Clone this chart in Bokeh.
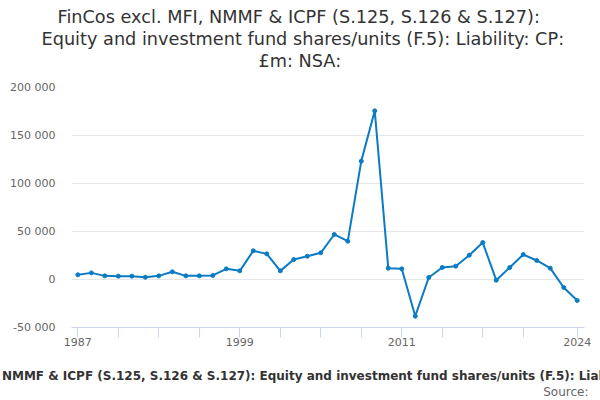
from bokeh.plotting import figure
from bokeh.models import Range1d, FixedTicker, Title
from bokeh.embed import file_html
from bokeh.resources import INLINE

# Data (£m)
years = list(range(1987, 2025))
values = [4900, 6900, 3800, 3500, 3500, 2400, 3800, 8000, 3800, 3800,
          4200, 11100, 9000, 29900, 26700, 9000, 20800, 24300, 27800, 46900,
          39900, 123300, 175700, 11800, 11100, -38200, 2100, 12500, 13900, 25300,
          38500, -700, 12500, 26000, 19800, 11800, -8300, -21900]

x_ticks = [1987, 1990, 1993, 1996, 1999, 2002, 2005, 2008, 2011, 2014, 2017, 2020, 2024]
x_tick_labels = ["1987", "", "", "", "1999", "", "", "", "2011", "", "", "", "2024"]
y_ticks = [-50000, 0, 50000, 100000, 150000, 200000]
y_tick_labels = ["-50 000", "0", "50 000", "100 000", "150 000", "200 000"]

title_lines = ["FinCos excl. MFI, NMMF & ICPF (S.125, S.126 & S.127):",
               "Equity and investment fund shares/units (F.5): Liability: CP:",
               "£m: NSA:"]
series_name = ("FinCos excl. MFI, NMMF & ICPF (S.125, S.126 & S.127): Equity and "
               "investment fund shares/units (F.5): Liability: CP: £m: NSA:")

FONT = "DejaVu Sans"
BLUE = "#0a7bc4"

p = figure(width=600, height=400, output_backend="svg", toolbar_location=None,
           title=None,
           x_range=Range1d(1986.53, 2024.54), y_range=Range1d(-50000, 200000),
           min_border_left=71, min_border_right=16, min_border_top=87, min_border_bottom=73)
p.outline_line_color = None
p.background_fill_color = "white"
p.border_fill_color = "white"

# title: a blank spacer next to the frame, then one line per title (last added on top)
p.add_layout(Title(text=" ", text_font=FONT, text_font_size="13.3px", standoff=0), "above")
title_offsets = [-14, -30, 187]   # left edge of each line relative to the plot frame
for line, off in reversed(list(zip(title_lines, title_offsets))):
    t = Title(text=line, align="left", offset=off, text_font=FONT,
              text_font_size="17.7px", text_font_style="normal",
              text_color="#333333", standoff=0)
    p.add_layout(t, "above")

# series
p.line(years, values, line_color=BLUE, line_width=2)
p.scatter(years, values, size=4, fill_color=BLUE, line_color=BLUE)

# x axis
p.xaxis.ticker = FixedTicker(ticks=x_ticks)
p.xaxis.major_label_overrides = dict(zip(x_ticks, x_tick_labels))
p.xaxis.axis_line_color = "#ccd6eb"
p.xaxis.major_tick_line_color = "#ccd6eb"
p.xaxis.major_tick_out = 10
p.xaxis.major_tick_in = 0
p.xaxis.minor_tick_line_color = None
p.xaxis.major_label_standoff = 0
p.xaxis.major_label_text_font = FONT
p.xaxis.major_label_text_font_size = "11px"
p.xaxis.major_label_text_color = "#666666"
p.xgrid.grid_line_color = None

# y axis
p.yaxis.ticker = FixedTicker(ticks=y_ticks)
p.yaxis.major_label_overrides = dict(zip(y_ticks, y_tick_labels))
p.yaxis.axis_line_color = None
p.yaxis.major_tick_line_color = None
p.yaxis.minor_tick_line_color = None
p.yaxis.major_tick_out = 0
p.yaxis.major_tick_in = 0
p.yaxis.major_label_standoff = 16
p.yaxis.major_label_text_font = FONT
p.yaxis.major_label_text_font_size = "11px"
p.yaxis.major_label_text_color = "#666666"
p.ygrid.ticker = FixedTicker(ticks=y_ticks)
p.ygrid.grid_line_color = "#e6e6e6"

# legend text and source line below the chart
p.add_layout(Title(text=" ", text_font=FONT, text_font_size="14px", standoff=0), "below")
legend_title = Title(text=series_name, align="left", offset=-188, text_font=FONT,
                     text_font_size="12px", text_font_style="bold",
                     text_color="#333333", standoff=0)
p.add_layout(legend_title, "below")
source_title = Title(text="Source:", align="right", text_font=FONT,
                     text_font_size="12px", text_font_style="normal",
                     text_color="#666666", offset=-4, standoff=0)
p.add_layout(source_title, "below")

open("out.html", "w").write(file_html(p, INLINE))
